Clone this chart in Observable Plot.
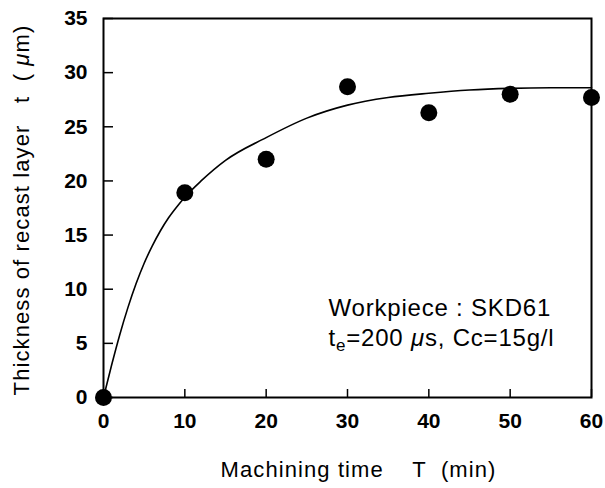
<!DOCTYPE html>
<html><head><meta charset="utf-8">
<script src="https://cdn.jsdelivr.net/npm/d3@7"></script>
<script src="https://cdn.jsdelivr.net/npm/@observablehq/plot@0.6"></script>
<style>
body{margin:0;background:#fff}
svg text{white-space:pre}
</style></head><body><div id="chart"></div>
<script>
// observed data
const obsT = [0, 10, 20, 30, 40, 50, 60];
const obsV = [0, 18.9, 22.0, 28.7, 26.3, 28.0, 27.7];
// fitted curve
const fitT = [0, 1, 2, 3, 4, 5, 6, 7, 8, 9, 10, 12, 15, 20, 25, 30, 35, 40, 45, 50, 55, 60];
const fitV = [0, 3.0, 5.8, 8.3, 10.5, 12.4, 14.0, 15.4, 16.6, 17.6, 18.5, 20.0, 21.9, 24.0, 25.8, 27.0, 27.7, 28.1, 28.4, 28.55, 28.6, 28.6];
const xTicks = [0, 10, 20, 30, 40, 50, 60];
const yTicks = [0, 5, 10, 15, 20, 25, 30, 35];
const xLabel = "Machining time    T  (min)";
const yLabel = "Thickness of recast layer   t  ( μm)";
const note1 = "Workpiece : SKD61";
const note2 = "te=200 μs, Cc=15g/l";

const obs = obsT.map((t, i) => ({t, v: obsV[i]}));
const fit = fitT.map((t, i) => ({t, v: fitV[i]}));

const chart = Plot.plot({
  width: 605,
  height: 488,
  marginLeft: 103,
  marginRight: 14,
  marginTop: 18,
  marginBottom: 91,
  style: {fontFamily: "'Liberation Sans', Arial, sans-serif", fontSize: "21px", color: "black", background: "white"},
  x: {domain: [0, 60]},
  y: {domain: [0, 35]},
  marks: [
    Plot.frame({stroke: "black", strokeWidth: 2}),
    Plot.axisX({ticks: xTicks, tickSize: 0, tickPadding: 16, fontWeight: "bold", label: null}),
    Plot.axisX({ticks: xTicks, tickSize: 8, dy: -8, strokeWidth: 1.5, tickFormat: () => "", label: null}),
    Plot.axisY({ticks: yTicks, tickSize: 0, tickPadding: 16, fontWeight: "bold", label: null}),
    Plot.axisY({ticks: yTicks, tickSize: 10, dx: 10, strokeWidth: 1.5, tickFormat: () => "", label: null}),
    Plot.line(fit, {x: "t", y: "v", curve: "monotone-x", stroke: "black", strokeWidth: 1.6}),
    Plot.dot(obs, {x: "t", y: "v", r: 8.5, fill: "black", stroke: "none"}),
    Plot.text([xLabel], {text: d => d, frameAnchor: "bottom", dx: 11, dy: 79, textAnchor: "middle", lineAnchor: "bottom", fontSize: 22}),
    Plot.text([yLabel], {text: d => d, frameAnchor: "left", dx: -75, dy: 2, rotate: -90, textAnchor: "middle", lineAnchor: "bottom", fontSize: 22}),
    Plot.text([note1], {text: d => d, frameAnchor: "top-left", dx: 225, dy: 297, textAnchor: "start", lineAnchor: "bottom", fontSize: 24}),
    Plot.text([note2], {text: d => d, frameAnchor: "top-left", dx: 225, dy: 327, textAnchor: "start", lineAnchor: "bottom", fontSize: 24})
  ]
});
document.getElementById("chart").appendChild(chart);

// post-process: letter spacing, italic mu, subscript
const NS = "http://www.w3.org/2000/svg";
const texts = Array.from(chart.querySelectorAll("text"));
for (const t of texts) {
  const s = t.textContent;
  const mk = (txt, attrs) => {
    const e = document.createElementNS(NS, "tspan");
    e.textContent = txt;
    for (const k in attrs) e.setAttribute(k, attrs[k]);
    t.appendChild(e);
  };
  if (s === xLabel) {
    t.setAttribute("letter-spacing", "1.1");
  } else if (s === yLabel) {
    t.setAttribute("letter-spacing", "1.1");
    const parts = s.split("μ");
    t.textContent = "";
    mk(parts[0], {});
    mk("μ", {"font-style": "italic"});
    mk(parts[1], {});
  } else if (s === note1) {
    t.setAttribute("letter-spacing", "0.8");
  } else if (s === note2) {
    t.setAttribute("letter-spacing", "0.8");
    t.textContent = "";
    mk(note2.slice(0, 1), {});
    mk(note2.slice(1, 2), {"font-size": "17", dy: "5"});
    mk(note2.slice(2, 7), {dy: "-5"});
    mk("μ", {"font-style": "italic"});
    mk(note2.slice(8), {});
  }
}
</script></body></html>
